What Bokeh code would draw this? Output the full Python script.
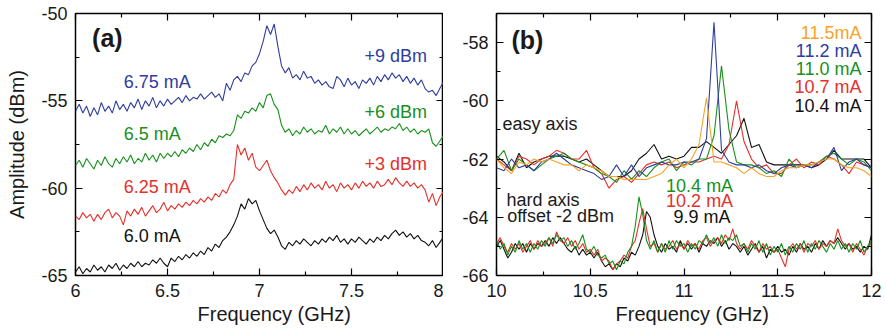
import numpy as np
from bokeh.plotting import figure
from bokeh.layouts import row
from bokeh.models import FixedTicker, LinearAxis, Range1d, Label, Title
from bokeh.embed import file_html
from bokeh.resources import INLINE

FONT = "Liberation Sans"
BLUE = "#2e3d9e"
GREEN = "#18901c"
RED = "#e5302a"
BLACK = "#111111"
ORANGE = "#f6a429"

# ---------------- panel (a) data: frequency grid 6..8 GHz, step 0.02 ----------------
freq_a = np.round(np.arange(101) * 0.02 + 6.0, 2)

amp_675 = [-55.6, -55.2, -55.7, -55.3, -55.9, -55.4, -55.8, -55.1, -55.6, -55.3,
           -55.7, -55.0, -55.5, -55.2, -55.6, -55.1, -55.4, -54.9, -55.5, -55.0,
           -55.3, -54.8, -55.4, -55.0, -55.3, -54.9, -55.2, -55.0, -54.8, -55.1,
           -54.7, -55.0, -54.8, -54.9, -54.6, -54.9, -54.7, -54.5, -54.8, -54.6,
           -55.0, -54.0, -54.4, -53.8, -53.6, -53.9, -53.4, -53.5, -53.0, -52.8,
           -52.3, -51.6, -50.7, -51.2, -50.6, -51.9, -53.0, -53.4, -53.1, -53.7,
           -53.5, -53.8, -53.3, -53.7, -53.6, -54.0, -53.8, -54.1, -53.9, -54.2,
           -54.3, -53.6, -53.8, -54.2, -53.7, -54.1, -53.9, -54.3, -53.8, -54.0,
           -53.7, -54.1, -53.6, -53.9, -53.5, -53.8, -53.4, -53.7, -53.5, -53.9,
           -53.6, -54.0, -53.7, -54.1, -53.8, -54.3, -54.5, -54.4, -54.7, -54.3,
           -53.9]

amp_650 = [-58.7, -58.4, -58.8, -58.3, -58.6, -58.9, -58.4, -58.7, -58.2, -58.6,
           -58.8, -58.3, -58.6, -58.2, -58.5, -58.1, -58.6, -58.3, -58.5, -58.0,
           -58.4, -58.1, -58.5, -58.0, -58.3, -58.0, -58.2, -57.9, -58.2, -57.8,
           -58.0, -57.7, -57.9, -57.5, -57.8, -57.4, -57.6, -57.2, -57.4, -57.0,
           -57.1, -56.9, -57.0, -56.7, -55.8, -56.0, -55.6, -55.7, -55.4, -55.6,
           -55.1, -55.4, -54.7, -54.6, -55.2, -55.5, -56.4, -56.8, -56.6, -57.0,
           -56.7, -56.9, -56.5, -56.8, -56.6, -56.9, -56.7, -56.8, -56.4, -56.9,
           -56.6, -56.8, -56.5, -56.9, -56.6, -56.9, -56.7, -57.0, -56.8, -56.6,
           -56.9, -56.7, -56.5, -56.8, -56.6, -56.7, -56.5, -56.6, -56.3, -56.7,
           -56.5, -56.8, -56.6, -56.9, -56.7, -56.8, -56.6, -57.4, -57.6, -57.3,
           -57.0]

amp_625 = [-61.6, -61.8, -61.4, -61.7, -61.5, -61.9, -61.5, -61.8, -61.4, -61.2,
           -61.7, -61.4, -61.6, -62.1, -61.3, -61.6, -61.2, -61.5, -61.1, -61.6,
           -61.3, -61.0, -61.4, -61.2, -60.8, -61.3, -61.0, -61.2, -60.9, -61.1,
           -60.8, -61.0, -60.7, -60.9, -60.6, -60.8, -60.5, -60.7, -60.3, -60.5,
           -60.1, -60.3, -59.8, -59.5, -57.5, -58.1, -57.7, -58.4, -58.0, -58.8,
           -59.0, -58.7, -58.4, -59.0, -59.4, -59.7, -60.1, -60.4, -60.1, -60.3,
           -59.9, -60.2, -59.8, -60.1, -59.7, -60.0, -59.8, -60.1, -59.6, -60.0,
           -59.8, -60.2, -59.7, -60.0, -59.8, -60.1, -59.7, -60.0, -59.6, -59.9,
           -59.7, -60.0, -59.6, -59.9, -59.8, -59.5, -59.8, -59.4, -59.7, -59.9,
           -59.6, -59.9, -59.7, -60.0, -59.8, -60.1, -60.8, -60.3, -61.0, -60.5,
           -60.2]

amp_600 = [-64.8, -64.5, -64.9, -64.6, -64.8, -64.4, -64.7, -64.5, -64.8, -64.4,
           -64.6, -64.3, -64.7, -64.4, -64.6, -64.3, -64.5, -64.2, -64.5, -64.3,
           -64.4, -64.1, -64.3, -64.0, -64.3, -64.5, -64.0, -64.2, -63.9, -64.1,
           -63.8, -64.0, -63.7, -63.9, -63.6, -63.8, -63.4, -63.6, -63.2, -63.4,
           -63.0, -62.8, -62.5, -62.1, -61.6, -60.9, -61.2, -60.6, -60.9, -60.7,
           -61.3, -61.8, -62.3, -62.6, -62.4, -62.8, -63.3, -63.5, -63.1, -63.3,
           -63.0, -63.2, -62.9, -63.1, -63.3, -63.0, -63.2, -62.9, -63.1, -62.8,
           -63.0, -62.7, -63.1, -62.9, -63.2, -62.9, -63.1, -62.8, -63.0, -63.2,
           -62.9, -63.1, -62.8, -63.0, -62.7, -62.9, -62.6, -62.4, -62.7, -62.5,
           -62.8, -62.6, -62.9, -62.7, -63.0, -63.1, -63.3, -63.0, -63.4, -63.1,
           -62.8]

# ---------------- panel (b) easy axis: grid 10..12 GHz, step 0.04 ----------------
freq_easy = np.round(np.arange(51) * 0.04 + 10.0, 2)

easy_115 = [-62.0, -62.3, -62.5, -62.1, -62.2, -62.0, -62.1, -62.0, -62.1, -62.2,
            -62.2, -62.4, -62.2, -62.3, -62.4, -62.6, -62.6, -62.7, -62.7, -62.7,
            -62.7, -62.6, -62.5, -62.2, -62.0, -62.3, -62.0, -61.5, -59.9, -62.1,
            -62.1, -62.2, -62.3, -62.5, -62.3, -62.5, -62.6, -62.6, -62.4, -62.3,
            -62.3, -62.2, -62.2, -62.1, -62.0, -62.0, -62.2, -62.3, -62.3, -62.4,
            -62.6]
easy_112 = [-62.3, -62.4, -62.0, -62.3, -62.2, -62.4, -62.1, -62.0, -61.8, -62.0,
            -62.2, -62.3, -62.4, -62.5, -62.7, -62.6, -62.2, -62.6, -62.2, -62.6,
            -62.3, -62.2, -62.1, -62.2, -62.2, -62.1, -62.1, -62.0, -61.3, -57.3,
            -61.7, -62.1, -62.2, -62.2, -62.3, -62.2, -62.4, -62.5, -62.3, -62.2,
            -62.3, -62.2, -62.3, -62.1, -62.0, -61.6, -62.4, -62.1, -62.0, -62.2,
            -62.3]
easy_110 = [-62.0, -61.7, -62.4, -62.0, -62.2, -62.4, -62.2, -62.0, -61.9, -61.8,
            -62.0, -62.1, -62.2, -62.3, -62.5, -62.6, -62.8, -62.4, -62.7, -62.4,
            -62.6, -62.3, -62.1, -62.0, -62.4, -62.1, -62.2, -62.0, -62.0, -61.2,
            -58.8, -61.0, -62.1, -62.2, -62.2, -62.3, -62.5, -62.4, -62.6, -62.0,
            -62.3, -62.2, -62.2, -62.1, -61.9, -61.8, -62.0, -62.2, -62.0, -62.1,
            -62.4]
easy_107 = [-62.0, -62.2, -62.4, -61.9, -62.0, -62.2, -62.0, -61.9, -61.7, -61.8,
            -62.0, -62.0, -61.7, -62.3, -62.5, -63.0, -62.7, -62.6, -62.8, -62.5,
            -62.2, -62.1, -62.2, -62.1, -62.3, -62.2, -62.1, -62.1, -62.0, -61.9,
            -62.0, -61.5, -60.0, -61.4, -62.0, -62.3, -62.2, -62.5, -62.5, -62.2,
            -62.0, -62.3, -62.1, -62.2, -61.9, -62.0, -62.2, -62.5, -62.1, -62.2,
            -62.3]
easy_104 = [-61.9, -62.1, -62.4, -61.8, -62.3, -62.1, -62.0, -61.9, -61.9, -61.9,
            -62.0, -62.1, -62.0, -62.2, -62.4, -62.6, -62.6, -62.6, -62.4, -62.0,
            -61.8, -61.5, -62.0, -61.9, -62.0, -61.9, -61.6, -61.6, -61.4, -61.6,
            -61.8, -61.5, -61.2, -60.6, -61.6, -61.5, -62.1, -62.2, -62.2, -62.2,
            -62.2, -62.2, -62.3, -62.2, -62.0, -61.7, -62.0, -62.0, -62.0, -62.0,
            -62.3]

# ---------------- panel (b) hard axis (offset -2 dBm): grid 10..12 GHz, step 0.02 ----------------
freq_hard = np.round(np.arange(101) * 0.02 + 10.0, 2)

hard_104 = [-64.8, -65.1, -64.9, -65.3, -65.0, -65.2, -64.8, -65.1, -64.9, -65.2,
            -64.9, -65.1, -64.8, -65.0, -64.7, -64.9, -64.6, -64.8, -64.7, -65.0,
            -64.8, -65.1, -64.9, -64.6, -65.1, -65.2, -65.0, -65.3, -65.4, -65.3,
            -65.6, -65.5, -65.8, -65.5, -65.6, -65.2, -65.0, -64.3, -63.3, -63.9,
            -64.8, -65.1, -64.8, -65.2, -64.9, -65.2, -64.8, -65.1, -64.8, -65.0,
            -64.9, -65.2, -64.9, -65.1, -64.8, -64.9, -64.6, -64.9, -64.7, -65.0,
            -64.6, -64.9, -64.7, -64.8, -64.6, -65.0, -64.9, -65.2, -64.9, -65.1,
            -64.8, -65.2, -64.9, -65.3, -65.0, -65.2, -64.9, -65.3, -65.0, -65.2,
            -64.9, -65.1, -64.8, -65.2, -64.9, -65.1, -64.8, -65.0, -65.2, -64.9,
            -65.1, -64.8, -65.1, -64.9, -65.2, -64.9, -65.1, -64.8, -65.2, -65.0,
            -64.8]
hard_102 = [-64.9, -64.7, -65.0, -65.2, -64.9, -65.1, -64.9, -65.2, -65.0, -64.8,
            -65.1, -64.8, -65.0, -64.9, -64.7, -65.0, -64.5, -64.8, -64.9, -64.7,
            -65.0, -64.8, -65.1, -64.9, -65.2, -65.1, -65.3, -65.1, -65.5, -65.4,
            -65.5, -65.8, -65.6, -65.5, -65.3, -65.4, -65.0, -64.8, -64.2, -63.7,
            -64.4, -65.0, -64.9, -65.2, -64.9, -65.1, -65.0, -64.8, -65.1, -64.9,
            -65.1, -64.8, -65.0, -64.9, -65.1, -64.8, -64.7, -65.0, -64.8, -64.7,
            -64.9, -64.6, -64.8, -64.4, -64.9, -65.1, -64.9, -65.1, -64.8, -65.0,
            -65.2, -64.9, -65.1, -65.0, -65.2, -65.1, -65.4, -65.7, -65.1, -64.9,
            -65.1, -64.9, -65.2, -64.9, -65.0, -64.8, -65.1, -64.9, -65.0, -64.8,
            -64.9, -64.4, -64.8, -65.0, -64.9, -65.2, -64.9, -65.1, -65.3, -65.0,
            -64.9]
hard_099 = [-65.0, -64.8, -65.1, -65.4, -65.2, -64.9, -65.1, -64.9, -65.2, -64.9,
            -65.1, -64.9, -65.0, -64.8, -65.0, -64.7, -64.9, -64.7, -64.9, -65.1,
            -65.2, -65.0, -65.3, -65.1, -65.3, -65.2, -65.4, -65.2, -65.5, -65.7,
            -65.6, -65.8, -65.6, -65.7, -65.4, -65.5, -65.2, -65.3, -65.0, -64.6,
            -63.8, -64.0, -64.6, -65.0, -65.2, -64.9, -65.1, -65.0, -65.2, -64.8,
            -65.1, -64.9, -65.1, -64.9, -65.2, -64.9, -65.0, -64.8, -64.9, -64.7,
            -65.0, -64.8, -65.1, -64.9, -65.0, -65.2, -65.0, -65.3, -65.1, -64.9,
            -65.2, -65.0, -65.4, -65.1, -65.2, -65.0, -65.2, -65.1, -65.3, -65.0,
            -65.2, -64.9, -65.1, -65.0, -65.2, -64.9, -65.1, -64.8, -65.0, -64.8,
            -64.9, -64.7, -64.9, -65.1, -64.9, -65.1, -65.0, -65.2, -65.0, -65.1,
            -64.6]

# ticks
xticks_a = [6, 6.5, 7, 7.5, 8]
xminor_a = [6.25, 6.75, 7.25, 7.75]
yticks_a = [-65, -60, -55, -50]
yminor_a = [-62.5, -57.5, -52.5]
xticks_b = [10, 10.5, 11, 11.5, 12]
xminor_b = [10.25, 10.75, 11.25, 11.75]
yticks_b = [-66, -64, -62, -60, -58]
yminor_b = [-65, -63, -61, -59, -57]


def fmt(v):
    return ("%g" % v)


def style(p, xt, xm, yt, ym):
    p.add_layout(LinearAxis(), "above")
    p.add_layout(LinearAxis(), "right")
    for ax in p.xaxis:
        ax.ticker = FixedTicker(ticks=xt, minor_ticks=xm)
        ax.major_label_overrides = {v: fmt(v) for v in xt}
    for ax in p.yaxis:
        ax.ticker = FixedTicker(ticks=yt, minor_ticks=ym)
        ax.major_label_overrides = {v: fmt(v) for v in yt}
    for ax in p.axis:
        ax.axis_line_color = None
        ax.major_tick_in = 7
        ax.major_tick_out = 0
        ax.minor_tick_in = 4
        ax.minor_tick_out = 0
        ax.major_tick_line_color = "black"
        ax.minor_tick_line_color = "black"
        ax.major_tick_line_width = 1.2
        ax.minor_tick_line_width = 1.2
        ax.major_label_text_font = FONT
        ax.major_label_text_font_size = "18px"
        ax.major_label_text_color = "#1a1a1a"
        ax.major_label_standoff = 8
        ax.axis_label_text_font = FONT
        ax.axis_label_text_font_size = "20px"
        ax.axis_label_text_font_style = "normal"
        ax.axis_label_text_color = "#1a1a1a"
    # mirrored tick marks on top / right, without labels
    p.above[0].major_label_overrides = {v: "" for v in xt}
    p.right[0].major_label_overrides = {v: "" for v in yt}
    for ax in (p.above[0], p.right[0]):
        ax.major_label_text_font_size = "1px"
        ax.major_label_standoff = 0
    p.xgrid.visible = False
    p.ygrid.visible = False
    p.outline_line_color = "black"
    p.outline_line_width = 1.5
    p.background_fill_color = "white"
    p.border_fill_color = "white"


def lab(p, x, y, text, color, align="left", size="18px", style_="normal"):
    p.add_layout(Label(x=x, y=y, text=text, text_color=color, text_font=FONT,
                       text_font_size=size, text_font_style=style_,
                       text_align=align, text_baseline="middle"))


def xtitle(p, text, shift):
    # x-axis title placed below the axis, left edge shifted to match the original
    p.add_layout(Title(text=text, align="left", offset=shift, text_font=FONT,
                       text_font_size="20px", text_font_style="normal",
                       text_color="#1a1a1a", standoff=2), "below")


# ---------------- panel (a) ----------------
pa = figure(width=443, height=335, x_range=Range1d(6, 8), y_range=Range1d(-65, -50),
            output_backend="svg", toolbar_location=None,
            min_border_left=75, min_border_right=0, min_border_top=13, min_border_bottom=60)
style(pa, xticks_a, xminor_a, yticks_a, yminor_a)
pa.left[0].axis_label = "Amplitude (dBm)"
pa.left[0].axis_label_standoff = 10

pa.line(freq_a, amp_675, color=BLUE, line_width=1.1)
pa.line(freq_a, amp_650, color=GREEN, line_width=1.1)
pa.line(freq_a, amp_625, color=RED, line_width=1.1)
pa.line(freq_a, amp_600, color=BLACK, line_width=1.1)

lab(pa, 6.09, -51.43, "(a)", "#1a1a1a", size="25px", style_="bold")
lab(pa, 6.262, -53.92, "6.75 mA", BLUE)
lab(pa, 7.91, -52.45, "+9 dBm", BLUE, align="right")
lab(pa, 6.262, -56.92, "6.5 mA", GREEN)
lab(pa, 7.91, -55.64, "+6 dBm", GREEN, align="right")
lab(pa, 6.262, -59.94, "6.25 mA", RED)
lab(pa, 7.91, -58.64, "+3 dBm", RED, align="right")
lab(pa, 6.262, -62.75, "6.0 mA", BLACK)
xtitle(pa, "Frequency (GHz)", 122)

# ---------------- panel (b) ----------------
pb = figure(width=443, height=335, x_range=Range1d(10, 12), y_range=Range1d(-66, -57),
            output_backend="svg", toolbar_location=None,
            min_border_left=53, min_border_right=15, min_border_top=13, min_border_bottom=60)
style(pb, xticks_b, xminor_b, yticks_b, yminor_b)

pb.line(freq_easy, easy_104, color=BLACK, line_width=1.1)
pb.line(freq_easy, easy_107, color=RED, line_width=1.1)
pb.line(freq_easy, easy_110, color=GREEN, line_width=1.1)
pb.line(freq_easy, easy_112, color=BLUE, line_width=1.1)
pb.line(freq_easy, easy_115, color=ORANGE, line_width=1.1)

pb.line(freq_hard, hard_099, color=BLACK, line_width=1.1)
pb.line(freq_hard, hard_102, color=RED, line_width=1.1)
pb.line(freq_hard, hard_104, color=GREEN, line_width=1.1)

lab(pb, 10.08, -57.9, "(b)", "#1a1a1a", size="25px", style_="bold")
lab(pb, 11.947, -57.68, "11.5mA", ORANGE, align="right")
lab(pb, 11.947, -58.29, "11.2 mA", BLUE, align="right")
lab(pb, 11.947, -58.89, "11.0 mA", GREEN, align="right")
lab(pb, 11.947, -59.52, "10.7 mA", RED, align="right")
lab(pb, 11.947, -60.18, "10.4 mA", BLACK, align="right")
lab(pb, 10.032, -60.81, "easy axis", "#1a1a1a")
lab(pb, 10.053, -63.41, "hard axis", "#1a1a1a")
lab(pb, 10.057, -63.96, "offset -2 dBm", "#1a1a1a")
lab(pb, 11.262, -62.93, "10.4 mA", GREEN, align="right")
lab(pb, 11.262, -63.44, "10.2 mA", RED, align="right")
lab(pb, 11.248, -63.99, "9.9 mA", BLACK, align="right")
xtitle(pb, "Frequency (GHz)", 119)

layout = row(pa, pb)
open("out.html", "w").write(file_html(layout, INLINE))
